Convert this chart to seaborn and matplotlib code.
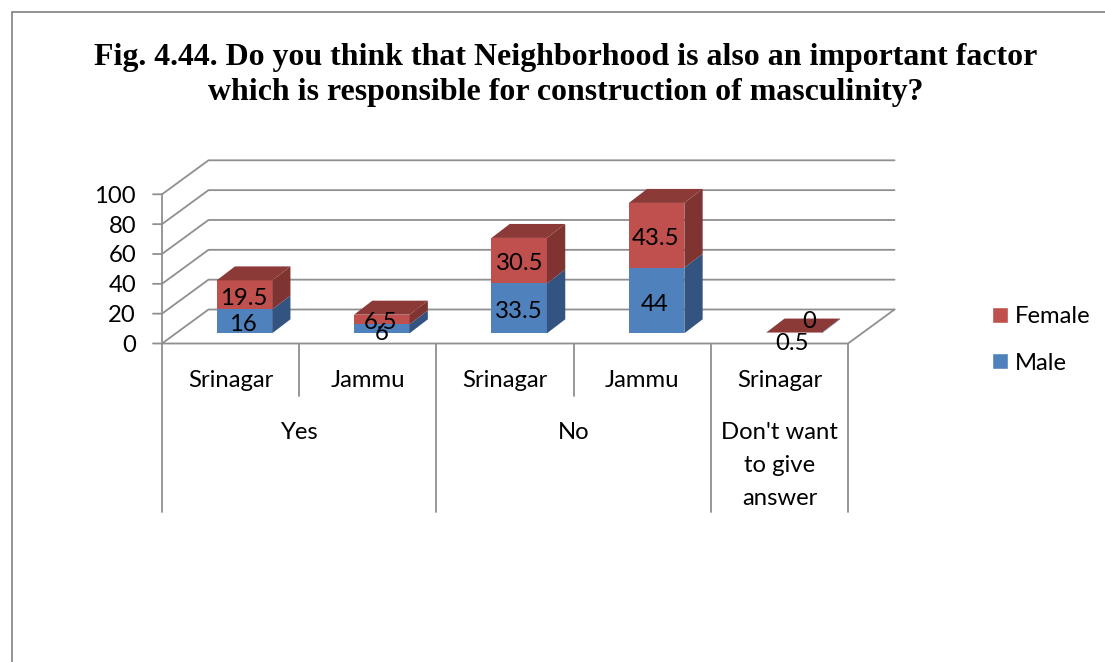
import matplotlib
matplotlib.use("Agg")
import matplotlib.pyplot as plt
from matplotlib.patches import Patch, Polygon, Rectangle
from matplotlib.lines import Line2D
from matplotlib.transforms import IdentityTransform
import pandas as pd
import seaborn as sns

# chart values
groups = ["Yes", "Yes", "No", "No", "Don't want\nto give\nanswer"]
cities = ["Srinagar", "Jammu", "Srinagar", "Jammu", "Srinagar"]
male = [16, 6, 33.5, 44, 0.5]
female = [19.5, 6.5, 30.5, 43.5, 0]
y_ticks = [0, 20, 40, 60, 80, 100]
title = ("Fig. 4.44. Do you think that Neighborhood is also an important factor\n"
         "which is responsible for construction of masculinity?")

W, H = 1105, 662
GRID = "#8f8f8f"
FS = 17.2
LW = 1.3
BLUE, BLUE_SIDE = "#4f81bd", "#335480"
RED, RED_SIDE, RED_TOP = "#c0504d", "#7f3432", "#8c3a38"


def box(left, top, right, bottom):
    return [left / W, 1 - bottom / H, (right - left) / W, (bottom - top) / H]


sns.set_style("white")
plt.rcParams["font.family"] = ["Lato", "DejaVu Sans"]

df = pd.DataFrame({"key": [f"{i}" for i in range(len(cities))],
                   "male": male, "female": female})

fig = plt.figure(figsize=(W / 100, H / 100), dpi=100)
fig.patch.set_facecolor("white")

# outer chart border, runs off the right and bottom of the picture
fig.add_artist(Rectangle((12 / W, -0.1), 1.2, 1.1 - 12 / H, transform=fig.transFigure,
                         fill=False, edgecolor="#8a8a8a", linewidth=1.3))

fig.text(565.5 / W, 1 - 75 / H, title, family="Liberation Serif", weight="bold", fontsize=22.95,
         ha="center", va="center", color="black", linespacing=1.28)

# frame axes: value axis, walls and category table
ax = fig.add_axes(box(162, 194.3, 848, 343.5))
ax.set_xlim(-0.5, 4.5)
ax.set_ylim(0, 100)
ax.patch.set_visible(False)
for s in ax.spines.values():
    s.set_visible(False)
ax.set_xticks([])
ax.set_yticks(y_ticks)
ax.tick_params(axis="y", length=0, pad=18.7, labelsize=FS, labelcolor="black")

wall_dx, wall_dy = 46.5, 34
for t in y_ticks:
    (x0, y0) = ax.transData.transform((-0.5, t))
    (x1, _) = ax.transData.transform((4.5, t))
    fig_line = Line2D([x0 - 9, x0, x0 + wall_dx, x1 + wall_dx], [y0, y0, y0 + wall_dy, y0 + wall_dy],
                      transform=IdentityTransform(), color=GRID, linewidth=LW, clip_on=False)
    ax.add_line(fig_line)
# floor front edge and right edge
(x0, y0) = ax.transData.transform((-0.5, 0))
(x1, _) = ax.transData.transform((4.5, 0))
ax.add_line(Line2D([x0, x1, x1 + wall_dx], [y0, y0, y0 + wall_dy], transform=IdentityTransform(),
                   color=GRID, linewidth=LW, clip_on=False))
ax.plot([-0.5, -0.5], [0, 100], color=GRID, linewidth=LW, clip_on=False)

# two level category table under the floor
for b in [-0.5, 1.5, 3.5, 4.5]:
    ax.plot([b, b], [0, -113], color=GRID, linewidth=LW, clip_on=False)
for b in [0.5, 2.5]:
    ax.plot([b, b], [0, -35], color=GRID, linewidth=LW, clip_on=False)
for i, c in enumerate(cities):
    ax.text(i, -24.5, c, ha="center", va="center", fontsize=FS, color="black")
ax.text(0.5, -59.8, groups[0], ha="center", va="center", fontsize=FS, color="black")
ax.text(2.5, -59.8, groups[2], ha="center", va="center", fontsize=FS, color="black")
ax.text(4, -81.7, groups[4], ha="center", va="center", fontsize=FS, color="black", linespacing=1.72)

# bars sit on the middle of the floor, so their axes is shifted back from the frame
ax_b = fig.add_axes(box(175.7, 184.3, 862.7, 333.3), zorder=2)
ax_b.patch.set_visible(False)
sns.barplot(data=df, x="key", y="male", color=BLUE, saturation=1, width=0.404, linewidth=0, ax=ax_b)
sns.barplot(data=df, x="key", y="female", bottom=df["male"], color=RED, saturation=1, width=0.404,
            linewidth=0, ax=ax_b)
ax_b.set_xlim(-0.5, 4.5)
ax_b.set_ylim(0, 100)
ax_b.axis("off")

bar_dx, bar_dy = 18.3, 14
n = len(cities)
for j, p in enumerate(list(ax_b.patches)):
    is_red = j >= n
    (xa, ya) = ax_b.transData.transform((p.get_x(), p.get_y()))
    (xb, yb) = ax_b.transData.transform((p.get_x() + p.get_width(), p.get_y() + p.get_height()))
    side = [(xb, ya), (xb + bar_dx, ya + bar_dy), (xb + bar_dx, yb + bar_dy), (xb, yb)]
    ax_b.add_patch(Polygon(side, closed=True, transform=IdentityTransform(),
                           facecolor=RED_SIDE if is_red else BLUE_SIDE, edgecolor="none", clip_on=False))
    if is_red:
        top = [(xa, yb), (xa + bar_dx, yb + bar_dy), (xb + bar_dx, yb + bar_dy), (xb, yb)]
        ax_b.add_patch(Polygon(top, closed=True, transform=IdentityTransform(),
                               facecolor=RED_TOP, edgecolor="none", clip_on=False))

# data labels, centred on each segment with the small shifts the picture has
male_nudge = [(-1, -3.5), (0, -5), (0, -3.5), (-2, -3.5), (-2, -11)]
female_nudge = [(-1, -3.5), (-1, -3), (0, -3), (-1, -3.5), (15, 11)]
for i in range(n):
    ax_b.annotate(f"{male[i]:g}", (i, male[i] / 2), xytext=male_nudge[i], textcoords="offset pixels",
                  ha="center", va="center", fontsize=FS, color="black", annotation_clip=False, zorder=5)
    ax_b.annotate(f"{female[i]:g}", (i, male[i] + female[i] / 2), xytext=female_nudge[i],
                  textcoords="offset pixels", ha="center", va="center", fontsize=FS, color="black",
                  annotation_clip=False, zorder=5)

handles = [Patch(facecolor=RED, label="Female"), Patch(facecolor=BLUE, label="Male")]
fig.legend(handles=handles, loc="upper left", bbox_to_anchor=(992 / W, 1 - 306 / H), frameon=False,
           fontsize=FS, handlelength=0.66, handleheight=0.66, handletextpad=0.3, labelspacing=1.08,
           borderpad=0, borderaxespad=0, labelcolor="black")

fig.savefig("out.png", dpi=100)
